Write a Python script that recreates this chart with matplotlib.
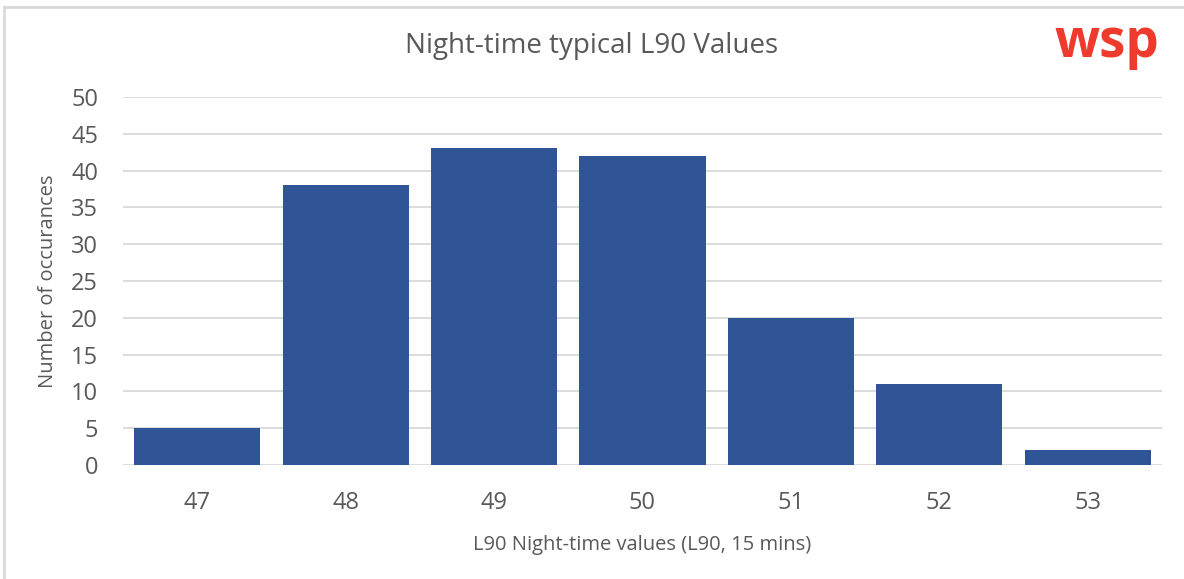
import matplotlib.pyplot as plt
from matplotlib.lines import Line2D

plt.rcParams['font.family'] = ['Open Sans', 'DejaVu Sans']

# L90 night-time histogram
categories = ["47", "48", "49", "50", "51", "52", "53"]
counts = [5, 38, 43, 42, 20, 11, 2]
yticks = list(range(0, 51, 5))

fig = plt.figure(figsize=(11.84, 5.79), dpi=100)
ax = fig.add_axes([0.1039, 0.197, 0.8775, 0.6355])

x = range(len(categories))
ax.bar(x, counts, width=0.85, color="#2F5597", zorder=3)
ax.set_xlim(-0.5, len(categories) - 0.5)
ax.set_ylim(0, 50)
ax.set_yticks(yticks)
ax.set_xticks(list(x))
ax.set_xticklabels(categories)
ax.grid(axis="y", color="#d9d9d9", lw=1.3, zorder=0)
for s in ax.spines.values():
    s.set_visible(False)
ax.tick_params(length=0, labelsize=17, labelcolor="#595959")
ax.tick_params(axis="x", pad=19)
ax.tick_params(axis="y", pad=18)

ax.set_xlabel("L90 Night-time values (L90, 15 mins)", fontsize=14.5, color="#595959", labelpad=14)
ax.set_ylabel("Number of occurances", fontsize=14.5, color="#595959", labelpad=9)
fig.text(0.5, 0.921, "Night-time typical L90 Values", ha="center", va="center",
         fontsize=20, color="#595959")

# wsp logo
fig.text(0.935, 0.925, "wsp", ha="center", va="center", fontsize=38,
         fontweight="bold", color="#EF3B2D")

# outer frame
fig.add_artist(Line2D([0.0035, 0.0035], [0, 0.988], transform=fig.transFigure, color="#d9d9d9", lw=2))
fig.add_artist(Line2D([0.0035, 1], [0.988, 0.988], transform=fig.transFigure, color="#d9d9d9", lw=2))

fig.savefig("out.png", dpi=100, facecolor="white")
